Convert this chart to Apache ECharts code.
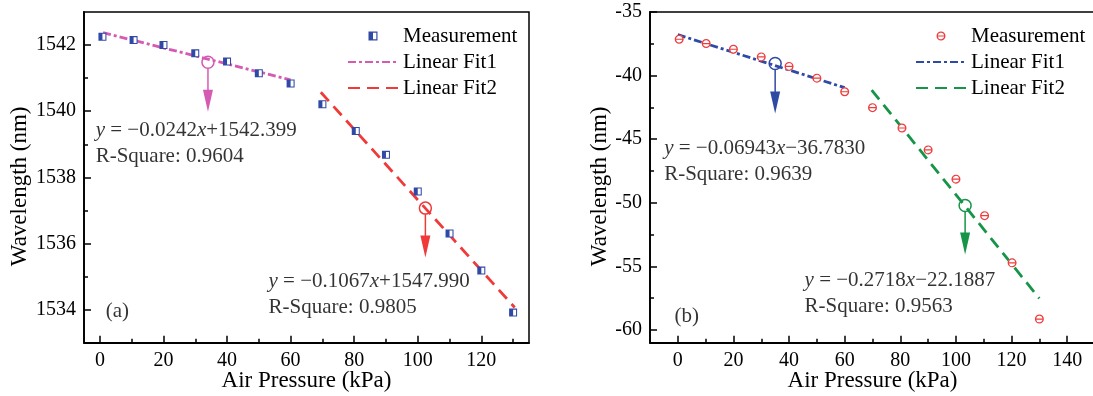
<!DOCTYPE html>
<html>
<head>
<meta charset="utf-8">
<script src="https://cdn.jsdelivr.net/npm/echarts@6/dist/echarts.min.js"></script>
<style>
  html, body { margin: 0; padding: 0; background: #fff; width: 1093px; height: 396px; overflow: hidden; }
  #chartA { position: absolute; left: 0; top: 0; width: 546px; height: 396px; }
  #chartB { position: absolute; left: 546px; top: 0; width: 547px; height: 396px; }
</style>
</head>
<body>
<div id="chartA"></div>
<div id="chartB"></div>
<script>
// ---- panel (a): absolute wavelength ----
const pressureA = [0.8, 10.6, 20, 30, 40, 50, 60, 70, 80.5, 90, 100, 110, 120, 130];
const wavelengthA = [1542.25, 1542.15, 1542.0, 1541.75, 1541.5, 1541.15, 1540.84, 1540.21,
                     1539.40, 1538.68, 1537.57, 1536.30, 1535.18, 1533.91];
// [slope, intercept, x start, x end]
const fit1A = [-0.0242, 1542.399, 1, 60];
const fit2A = [-0.1067, 1547.990, 69.5, 130.5];
// [x, circle y, arrow tip y]
const calloutsA = [[34.0, 1541.48, 1539.98], [102.4, 1537.07, 1535.58]];
const notesA = [
  [-1.5, 1539.02, '{i|y} = \u22120.0242{i|x}+1542.399\nR-Square: 0.9604'],
  [52.9, 1534.47, '{i|y} = \u22120.1067{i|x}+1547.990\nR-Square: 0.9805'],
  [1.7, 1533.94, '(a)']
];
const xTicksA = [0, 10, 20, 30, 40, 50, 60, 70, 80, 90, 100, 110, 120, 130];
const xLabelsA = [0, 20, 40, 60, 80, 100, 120];
const yTicksA = [1534, 1535, 1536, 1537, 1538, 1539, 1540, 1541, 1542];
const yLabelsA = [1534, 1536, 1538, 1540, 1542];

// ---- panel (b): wavelength shift ----
const pressureB = [0.5, 10.2, 20, 30, 40, 50, 60, 70, 80.6, 90, 100, 110.3, 120.2, 130];
const wavelengthB = [-37.14, -37.48, -37.93, -38.53, -39.28, -40.2, -41.27, -42.52,
                     -44.12, -45.84, -48.14, -51.01, -54.72, -59.14];
const fit1B = [-0.06943, -36.7830, 0, 60];
const fit2B = [-0.2718, -22.1887, 69.7, 130];
const calloutsB = [[35, -39.05, -42.98], [103.3, -50.22, -54.06]];
const notesB = [
  [-5.1, -46.75, '{i|y} = \u22120.06943{i|x}\u221236.7830\nR-Square: 0.9639'],
  [45.4, -57.1, '{i|y} = \u22120.2718{i|x}\u221222.1887\nR-Square: 0.9563'],
  [-1.4, -58.95, '(b)']
];
const xTicksB = [0, 10, 20, 30, 40, 50, 60, 70, 80, 90, 100, 110, 120, 130, 140];
const xLabelsB = [0, 20, 40, 60, 80, 100, 120, 140];
const yTicksB = [-60, -57.5, -55, -52.5, -50, -47.5, -45, -42.5, -40, -37.5, -35];
const yLabelsB = [-60, -55, -50, -45, -40, -35];

const FONT = 'Liberation Serif';

// half-filled square: outline with the left half solid
const SQUARE_HALF = 'path://M0,0 L10,0 L10,10 L0,10 Z M5,1.3 L5,8.7 L8.7,8.7 L8.7,1.3 Z';
// ring crossed by a horizontal bar
const CIRCLE_BAR = 'path://M0,-5 A5,5 0 1 1 0,5 A5,5 0 1 1 0,-5 Z ' +
  'M-3.55,-0.65 L3.55,-0.65 A3.6,3.6 0 0 0 -3.55,-0.65 Z ' +
  'M3.55,0.65 L-3.55,0.65 A3.6,3.6 0 0 0 3.55,0.65 Z';

function fitLine(f) {
  return [[f[2], f[0] * f[2] + f[1]], [f[3], f[0] * f[3] + f[1]]];
}

function minorOnly(values, labels) {
  return values.filter(v => labels.indexOf(v) < 0);
}

function buildOption(p) {
  const axisText = { color: '#000', fontFamily: FONT, fontSize: 20, formatter: v => String(v) };
  const baseAxis = (type, extra) => Object.assign({
    type: 'value', gridIndex: 0, min: p[type + 'Min'], max: p[type + 'Max'],
    splitLine: { show: false }
  }, extra);

  const tickStyle = { color: '#000', width: 1.5 };

  const xAxes = [
    baseAxis('x', {
      position: 'bottom',
      axisLine: { show: true, onZero: false, lineStyle: { color: '#000', width: 1.8 } },
      axisTick: { show: true, inside: true, length: 7, lineStyle: tickStyle, customValues: p.xLabels },
      axisLabel: Object.assign({ margin: 8, customValues: p.xLabels }, axisText),
      name: 'Air Pressure (kPa)', nameLocation: 'middle', nameGap: 27, nameMoveOverlap: false,
      nameTextStyle: { color: '#000', fontFamily: FONT, fontSize: 23 }
    }),
    baseAxis('x', {
      position: 'bottom',
      axisLine: { show: false, onZero: false },
      axisTick: { show: true, inside: true, length: 4, lineStyle: tickStyle,
                  customValues: minorOnly(p.xTicks, p.xLabels) },
      axisLabel: { show: false }
    })
  ];
  const yAxes = [
    baseAxis('y', {
      position: 'left',
      axisLine: { show: true, onZero: false, lineStyle: { color: '#000', width: 1.8 } },
      axisTick: { show: true, inside: true, length: 7, lineStyle: tickStyle, customValues: p.yLabels },
      axisLabel: Object.assign({ margin: 8, customValues: p.yLabels }, axisText),
      name: 'Wavelength (nm)', nameLocation: 'middle', nameGap: p.yNameGap, nameMoveOverlap: false,
      nameTextStyle: { color: '#000', fontFamily: FONT, fontSize: 23, padding: [0, 18, 0, 0] }
    }),
    baseAxis('y', {
      position: 'left',
      axisLine: { show: false, onZero: false },
      axisTick: { show: true, inside: true, length: 4, lineStyle: tickStyle,
                  customValues: minorOnly(p.yTicks, p.yLabels) },
      axisLabel: { show: false }
    })
  ];

  const measured = p.pressure.map((x, i) => [x, p.wavelength[i]]);
  const hiddenSymbol = { color: 'rgba(0,0,0,0)', opacity: 0, borderWidth: 0 };

  return {
    animation: false,
    backgroundColor: '#fff',
    grid: { left: p.gridLeft, top: 12, width: 445, height: 330.7, show: true,
            borderColor: '#000', borderWidth: 1.5, backgroundColor: 'transparent',
            outerBoundsMode: 'none', containLabel: false },
    xAxis: xAxes,
    yAxis: yAxes,
    legend: {
      orient: 'vertical', left: p.legendLeft, top: 23, itemGap: 0, padding: 0,
      itemWidth: 50, itemHeight: 9,
      data: [
        'Measurement',
        { name: 'Linear Fit1', itemStyle: hiddenSymbol },
        { name: 'Linear Fit2', itemStyle: hiddenSymbol }
      ],
      textStyle: { color: '#000', fontFamily: FONT, fontSize: 21, lineHeight: 26 },
      selectedMode: false
    },
    series: [
      {
        name: 'Linear Fit1', type: 'line', data: fitLine(p.fit1), symbol: 'none',
        lineStyle: { color: p.fit1Color, width: 2.8, type: [8, 3, 3, 3] },
        itemStyle: { color: p.fit1Color }, z: 2
      },
      {
        name: 'Linear Fit2', type: 'line', data: fitLine(p.fit2), symbol: 'none',
        lineStyle: { color: p.fit2Color, width: 2.8, type: [12, 7] },
        itemStyle: { color: p.fit2Color }, z: 2
      },
      {
        name: 'backing', type: 'scatter', data: measured, symbol: p.backSymbol,
        symbolSize: p.markSize - 1, itemStyle: { color: '#fff', opacity: 1 }, z: 3, silent: true
      },
      {
        name: 'Measurement', type: 'scatter', data: measured, symbol: p.markSymbol,
        symbolSize: p.markSize, itemStyle: { color: p.markColor, opacity: 1 }, z: 4
      },
      {
        name: 'callouts', type: 'custom', data: p.callouts, z: 5, silent: true,
        renderItem(params, api) {
          const c = api.coord([api.value(0), api.value(1)]);
          const tip = api.coord([api.value(0), api.value(2)]);
          const col = p.calloutColors[params.dataIndex];
          const r = 6, head = 22, hw = 5;
          return {
            type: 'group', children: [
              { type: 'circle', shape: { cx: c[0], cy: c[1], r: r },
                style: { fill: 'none', stroke: col, lineWidth: 1.5 } },
              { type: 'line', shape: { x1: c[0], y1: c[1] + r, x2: c[0], y2: tip[1] - head + 1 },
                style: { stroke: col, lineWidth: 1.5 } },
              { type: 'polygon',
                shape: { points: [[c[0] - hw, tip[1] - head], [c[0] + hw, tip[1] - head], [c[0], tip[1]]] },
                style: { fill: col } }
            ]
          };
        }
      },
      {
        name: 'notes', type: 'scatter', z: 6, silent: true,
        symbol: 'circle', symbolSize: 1, itemStyle: { color: 'rgba(0,0,0,0)' },
        data: p.notes.map(n => ({
          value: [n[0], n[1]],
          label: {
            show: true, position: 'right', distance: 0, formatter: n[2],
            color: '#000', fontFamily: FONT, fontSize: 21, lineHeight: 26,
            rich: { i: { fontStyle: 'italic', fontFamily: FONT, fontSize: 21, lineHeight: 26, color: '#000' } }
          }
        }))
      }
    ]
  };
}

const chartA = echarts.init(document.getElementById('chartA'), null, { renderer: 'canvas' });
chartA.setOption(buildOption({
  xMin: -5, xMax: 135, yMin: 1533, yMax: 1543,
  xTicks: xTicksA, xLabels: xLabelsA, yTicks: yTicksA, yLabels: yLabelsA,
  gridLeft: 84, yNameGap: 53, legendLeft: 347,
  pressure: pressureA, wavelength: wavelengthA,
  fit1: fit1A, fit2: fit2A, fit1Color: '#d55ab3', fit2Color: '#f03a3a',
  markSymbol: SQUARE_HALF, backSymbol: 'rect', markSize: 8, markColor: '#3049a6',
  callouts: calloutsA, calloutColors: ['#d55ab3', '#f03a3a'], notes: notesA
}));

const chartB = echarts.init(document.getElementById('chartB'), null, { renderer: 'canvas' });
chartB.setOption(buildOption({
  xMin: -10, xMax: 150, yMin: -61, yMax: -35,
  xTicks: xTicksB, xLabels: xLabelsB, yTicks: yTicksB, yLabels: yLabelsB,
  gridLeft: 104, yNameGap: 39, legendLeft: 369,
  pressure: pressureB, wavelength: wavelengthB,
  fit1: fit1B, fit2: fit2B, fit1Color: '#2f4aa5', fit2Color: '#169448',
  markSymbol: CIRCLE_BAR, backSymbol: 'circle', markSize: 9, markColor: '#ee3b3b',
  callouts: calloutsB, calloutColors: ['#2f4aa5', '#169448'], notes: notesB
}));
</script>
</body>
</html>
